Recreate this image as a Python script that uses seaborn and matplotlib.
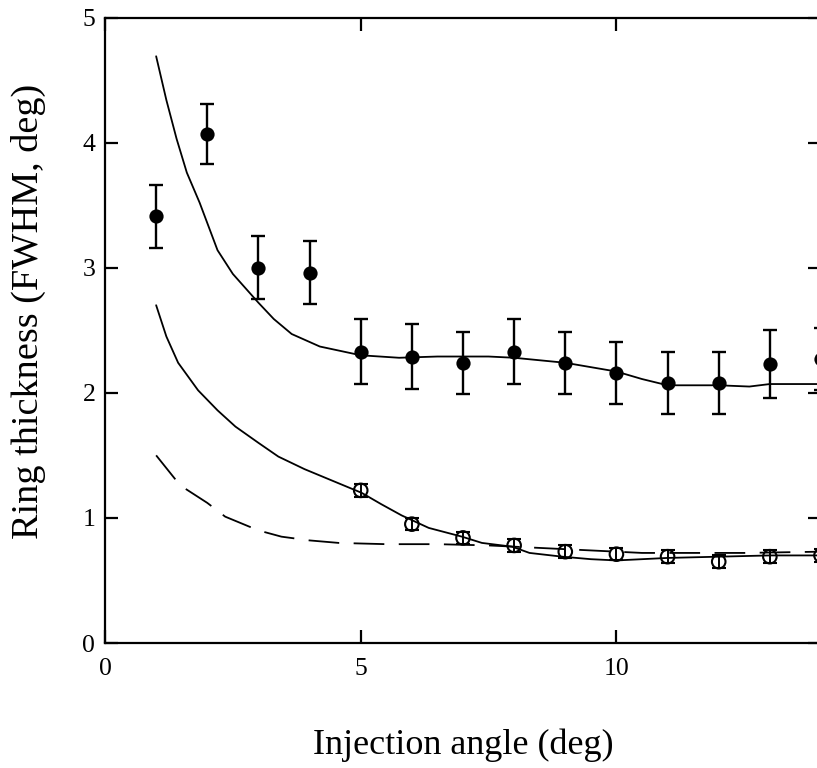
import numpy as np
import pandas as pd
import matplotlib
matplotlib.use("Agg")
import matplotlib.pyplot as plt
import seaborn as sns

# ---- data ----
angle_filled = [1, 2, 3, 4, 5, 6, 7, 8, 9, 10, 11, 12, 13, 14]
thick_filled = [3.41, 4.07, 3.00, 2.96, 2.33, 2.29, 2.24, 2.33, 2.24, 2.16, 2.08, 2.08, 2.23, 2.27]
err_filled = [0.25, 0.24, 0.25, 0.25, 0.26, 0.26, 0.25, 0.26, 0.25, 0.25, 0.25, 0.25, 0.27, 0.25]

angle_open = [5, 6, 7, 8, 9, 10, 11, 12, 13, 14]
thick_open = [1.22, 0.95, 0.84, 0.78, 0.73, 0.71, 0.69, 0.65, 0.69, 0.70]
err_open = [0.05, 0.05, 0.05, 0.05, 0.05, 0.05, 0.05, 0.05, 0.05, 0.05]

upper_x = [1.0, 1.2, 1.4, 1.6, 1.85, 2.2, 2.5, 3.0, 3.3, 3.65, 4.2, 5.0, 5.75, 6.5, 7.5, 8.0, 9.0, 10.0, 10.5, 11.0, 12.0, 12.6, 13.0, 14.0]
upper_y = [4.69, 4.34, 4.03, 3.76, 3.52, 3.14, 2.95, 2.72, 2.59, 2.47, 2.37, 2.30, 2.28, 2.29, 2.29, 2.28, 2.24, 2.17, 2.11, 2.06, 2.06, 2.05, 2.07, 2.07]

middle_x = [1.0, 1.2, 1.43, 1.82, 2.2, 2.55, 3.0, 3.39, 3.9, 4.43, 5.02, 5.4, 5.8, 6.33, 6.98, 7.37, 7.96, 8.3, 8.94, 9.5, 10.0, 10.5, 11.0, 12.0, 13.0, 14.0]
middle_y = [2.70, 2.45, 2.24, 2.02, 1.86, 1.73, 1.60, 1.49, 1.39, 1.30, 1.20, 1.11, 1.02, 0.92, 0.85, 0.80, 0.77, 0.72, 0.69, 0.67, 0.66, 0.67, 0.68, 0.69, 0.70, 0.70]

dashed_x = [1.0, 1.47, 2.0, 2.35, 3.0, 3.45, 4.0, 4.57, 5.5, 6.5, 7.5, 8.5, 9.5, 10.5, 11.5, 12.5, 14.0]
dashed_y = [1.50, 1.26, 1.12, 1.01, 0.90, 0.85, 0.82, 0.80, 0.79, 0.79, 0.78, 0.76, 0.74, 0.72, 0.72, 0.72, 0.73]

x_ticks = [0, 5, 10]
y_ticks = [0, 1, 2, 3, 4, 5]

# ---- plotting ----
sns.set_theme(style="ticks")
plt.rcParams['font.family'] = ['Liberation Serif', 'DejaVu Serif']

W, H = 817, 768
fig = plt.figure(figsize=(W / 100, H / 100), dpi=100)
left_px, right_px, top_px, bottom_px = 105, 821, 17.5, 643
ax = fig.add_axes([left_px / W, (H - bottom_px) / H,
                   (right_px - left_px) / W, (bottom_px - top_px) / H])
ax.set_facecolor('white')

lw_curve = 1.3
sns.lineplot(x=upper_x, y=upper_y, ax=ax, color='black', lw=lw_curve,
             sort=False, estimator=None)
sns.lineplot(x=middle_x, y=middle_y, ax=ax, color='black', lw=lw_curve,
             sort=False, estimator=None)
sns.lineplot(x=dashed_x, y=dashed_y, ax=ax, color='black', lw=lw_curve,
             sort=False, estimator=None, linestyle=(0, (17, 8)))

ax.errorbar(angle_filled, thick_filled, yerr=err_filled, fmt='none',
            ecolor='black', elinewidth=1.7, capsize=5.0, capthick=1.7, zorder=3)
ax.errorbar(angle_open, thick_open, yerr=err_open, fmt='none',
            ecolor='black', elinewidth=1.4, capsize=4.8, capthick=1.5, zorder=3)

sns.scatterplot(x=angle_filled, y=thick_filled, ax=ax, color='black',
                s=105, linewidth=0, zorder=4)
sns.scatterplot(x=angle_open, y=thick_open, ax=ax, color='black',
                s=95, linewidth=1.5, zorder=4)
ax.collections[-1].set_facecolor('none')
ax.collections[-1].set_edgecolor('black')

ax.set_xlim(0, 14)
ax.set_ylim(0, 5)
ax.set_xticks(x_ticks)
ax.set_yticks(y_ticks)
ax.set_xticklabels([str(t) for t in x_ticks])
ax.set_yticklabels([str(t) for t in y_ticks])

for s in ax.spines.values():
    s.set_visible(True)
    s.set_linewidth(1.6)
    s.set_color('black')

ax.tick_params(axis='both', which='major', direction='in', length=9.4,
               width=1.6, colors='black', labelsize=18.5,
               top=True, right=True)
ax.tick_params(axis='x', pad=11)
ax.tick_params(axis='y', pad=7)

ax.set_xlabel('Injection angle (deg)', fontsize=26, color='black')
ax.set_ylabel('Ring thickness (FWHM, deg)', fontsize=27.5, color='black')
ax.xaxis.label.set_va('center')
ax.yaxis.label.set_va('center')
ax.xaxis.set_label_coords((463 - left_px) / (right_px - left_px),
                          (bottom_px - 745) / (bottom_px - top_px))
ax.yaxis.set_label_coords((28 - left_px) / (right_px - left_px),
                          (bottom_px - 311) / (bottom_px - top_px))

fig.savefig('out.png', dpi=100)
